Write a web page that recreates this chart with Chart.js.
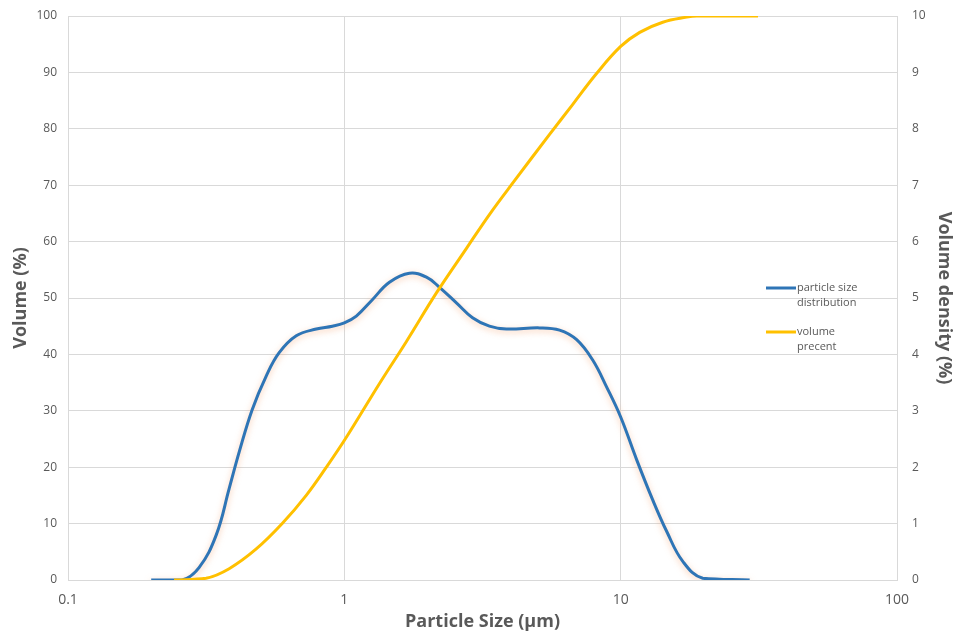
<!DOCTYPE html>
<html>
<head>
<meta charset="utf-8">
<title>Particle size distribution</title>
<script src="https://cdn.jsdelivr.net/npm/chart.js@4.4.1/dist/chart.umd.min.js"></script>
<style>
    html, body { margin: 0; padding: 0; background: #fff; }
    #psdChart { display: block; }
</style>
</head>
<body>
<canvas id="psdChart" width="955" height="635"></canvas>
<script>
// particle size distribution (volume density, right axis)
const psdSize = [0.200, 0.259, 0.298, 0.344, 0.383, 0.417, 0.464, 0.522, 0.581, 0.670, 0.792, 0.905,
    1.0, 1.105, 1.263, 1.456, 1.720, 1.982, 2.21, 2.55, 2.91, 3.35, 3.86, 5.09, 6.01, 6.93, 7.92,
    8.90, 10.0, 11.43, 13.06, 14.68, 16.78, 19.82, 29.3];
const psdDensity = [0, 0, 0.22, 0.80, 1.62, 2.28, 3.02, 3.62, 4.03, 4.33, 4.45, 4.50,
    4.56, 4.68, 4.97, 5.28, 5.44, 5.37, 5.19, 4.91, 4.65, 4.50, 4.45, 4.47, 4.43, 4.26, 3.90,
    3.42, 2.89, 2.13, 1.42, 0.86, 0.33, 0.03, 0];

// cumulative volume percent (left axis)
const cumSize = [0.242, 0.316, 0.383, 0.480, 0.596, 0.728, 0.861, 1.017, 1.339, 1.678,
    2.154, 2.767, 3.35, 4.13, 5.53, 6.70, 8.18, 10.0, 11.72, 14.20, 17.34, 18.85, 31.4];
const cumVolume = [0, 0.3, 2.0, 5.5, 10.0, 15.0, 20.0, 25.3, 34.8, 42.3,
    50.9, 58.8, 64.8, 70.8, 79.0, 84.3, 89.8, 94.6, 97.1, 98.9, 99.8, 100, 100];

const xTicks = [0.1, 1, 10, 100];
const legendItems = [
    { lines: ['particle size', 'distribution'], color: '#2e75b6' },
    { lines: ['volume', 'precent'], color: '#ffc000' }
];

const textColor = '#595959';
const gridColor = '#d9d9d9';
const fontFamily = "'Open Sans', 'Liberation Sans', sans-serif";

// soft orange glow under the distribution curve
const glowPlugin = {
    id: 'glow',
    beforeDatasetDraw(chart, args) {
        if (chart.data.datasets[args.index].glow) {
            const ctx = chart.ctx;
            ctx.save();
            ctx.shadowColor = 'rgba(244, 160, 110, 0.55)';
            ctx.shadowBlur = 6;
            ctx.shadowOffsetX = 0;
            ctx.shadowOffsetY = 2;
        }
    },
    afterDatasetDraw(chart, args) {
        if (chart.data.datasets[args.index].glow) {
            chart.ctx.restore();
        }
    }
};

// legend placed inside the plot, right side, with wrapped labels
const sideLegend = {
    id: 'sideLegend',
    afterDraw(chart) {
        const ctx = chart.ctx;
        const x0 = 766, x1 = 796;
        let y = 288;
        ctx.save();
        ctx.font = '11px ' + fontFamily;
        ctx.textBaseline = 'middle';
        ctx.textAlign = 'left';
        legendItems.forEach(item => {
            ctx.strokeStyle = item.color;
            ctx.lineWidth = 3;
            ctx.beginPath();
            ctx.moveTo(x0, y);
            ctx.lineTo(x1, y);
            ctx.stroke();
            ctx.fillStyle = textColor;
            item.lines.forEach((line, i) => ctx.fillText(line, x1 + 1, y + i * 15));
            y += 44;
        });
        ctx.restore();
    }
};

// fixed axis sizes; tick overflow padding is dropped so the plot keeps its frame
function fixWidth(w) {
    return scale => {
        scale.width = w;
        scale.paddingTop = 0;
        scale.paddingBottom = 0;
    };
}

const ctx = document.getElementById('psdChart').getContext('2d');
new Chart(ctx, {
    type: 'line',
    data: {
        datasets: [
            {
                label: 'particle size distribution',
                data: psdSize.map((s, i) => ({ x: s, y: psdDensity[i] })),
                yAxisID: 'yRight',
                borderColor: '#2e75b6',
                borderWidth: 3,
                pointRadius: 0,
                tension: 0.4,
                glow: true,
                order: 1
            },
            {
                label: 'volume precent',
                data: cumSize.map((s, i) => ({ x: s, y: cumVolume[i] })),
                yAxisID: 'yLeft',
                borderColor: '#ffc000',
                borderWidth: 3,
                pointRadius: 0,
                tension: 0.4,
                order: 0
            }
        ]
    },
    options: {
        responsive: false,
        animation: false,
        layout: { padding: { top: 16, left: 0, right: 0, bottom: 0 } },
        plugins: {
            legend: { display: false },
            tooltip: { enabled: false }
        },
        scales: {
            x: {
                type: 'logarithmic',
                min: 0.1,
                max: 100,
                afterBuildTicks: scale => { scale.ticks = xTicks.map(v => ({ value: v })); },
                afterFit: scale => {
                    scale.height = 55;
                    scale.paddingLeft = 0;
                    scale.paddingRight = 0;
                },
                ticks: {
                    color: textColor,
                    font: { family: fontFamily, size: 14 },
                    padding: 12,
                    maxRotation: 0,
                    callback: v => String(v)
                },
                grid: { color: gridColor, drawTicks: false },
                border: { color: gridColor },
                title: {
                    display: true,
                    text: 'Particle Size (µm)',
                    color: textColor,
                    font: { family: fontFamily, size: 18, weight: 'bold' },
                    padding: { top: 0, bottom: 2 }
                }
            },
            yLeft: {
                position: 'left',
                min: 0,
                max: 100,
                afterFit: fixWidth(68),
                ticks: {
                    stepSize: 10,
                    color: textColor,
                    font: { family: fontFamily, size: 12 },
                    padding: 11
                },
                grid: { color: gridColor, drawTicks: false },
                border: { color: gridColor },
                title: {
                    display: true,
                    text: 'Volume (%)',
                    color: textColor,
                    font: { family: fontFamily, size: 18, weight: 'bold' },
                    padding: { top: 10, bottom: 0 }
                }
            },
            yRight: {
                position: 'right',
                min: 0,
                max: 10,
                afterFit: fixWidth(58),
                ticks: {
                    stepSize: 1,
                    color: textColor,
                    font: { family: fontFamily, size: 12 },
                    padding: 15
                },
                grid: { display: false, drawTicks: false },
                border: { display: false },
                title: {
                    display: true,
                    text: 'Volume density (%)',
                    color: textColor,
                    font: { family: fontFamily, size: 18, weight: 'bold' },
                    padding: { top: 0, bottom: 0 }
                }
            }
        }
    },
    plugins: [glowPlugin, sideLegend]
});
</script>
</body>
</html>
